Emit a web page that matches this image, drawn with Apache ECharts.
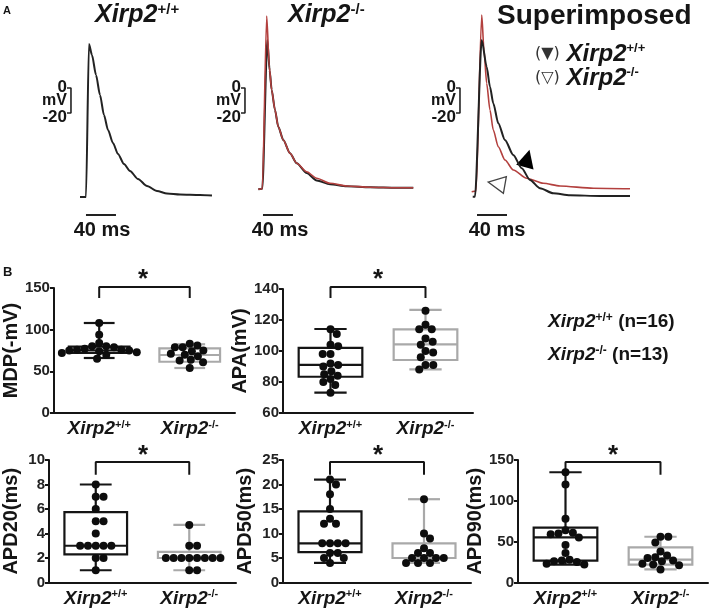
<!DOCTYPE html>
<html><head><meta charset="utf-8">
<script src="https://cdn.jsdelivr.net/npm/echarts@6/dist/echarts.min.js"></script>
<style>html,body{margin:0;padding:0;background:#fff}#c{width:709px;height:608px}</style>
</head><body><div id="c"></div>
<script>
// ---------------- DATA ----------------
const categories = ['Xirp2+/+', 'Xirp2-/-'];
const yNames = ['MDP(-mV)', 'APA(mV)', 'APD20(ms)', 'APD50(ms)', 'APD90(ms)'];
const legendN = [16, 13];

// Panel A: action potential traces [time ms, membrane potential mV]
const traceWT = [[53.3,-87.2],[61.3,-87.2],[65.3,35.2],[69.3,26.4],[74.7,10.4],[80,-5.6],[85.3,-21.6],[90.7,-33.6],[97.3,-44],[104,-52.8],[112,-60.8],[120,-66.4],[130.7,-72.8],[142.7,-78.4],[156,-82.4],[169.3,-84.4],[186.7,-85.2],[213.3,-85.6],[229.3,-86]];
const traceKOblack = [[11.1,-81],[16.4,-80.6],[23.1,38.4],[26.2,14],[28.9,-1.6],[33.3,-17.6],[37.7,-31],[44.4,-41.6],[53.3,-52.2],[62.3,-60.2],[75.6,-68],[88.9,-74],[106.7,-77],[128.9,-78.6],[160,-79.4],[195.6,-79.8],[217.7,-79.8]];
const traceKOred = [[11.1,-81],[16.4,-80.6],[22.3,57.6],[25.7,17],[28.9,-1.6],[33.3,-17.6],[37.7,-31],[44.4,-41.6],[53.3,-52.2],[62.3,-60.2],[75.6,-67],[88.9,-72.2],[106.7,-76.2],[128.9,-78.4],[160,-79.4],[195.6,-79.8],[217.7,-79.8]];
const superWT = [[10.3,-87],[13.3,-87],[22.3,38.4],[28.9,17],[33.3,1],[37.7,-12.2],[44.4,-28.2],[53.3,-41.6],[64.4,-53.6],[75.6,-64.2],[86.7,-73.6],[100,-80.2],[117.7,-84.2],[140,-85.8],[180,-86.4],[220,-86.4]];
const superKO = [[8.9,-83],[14.7,-82.4],[22.3,58.4],[25.3,30.4],[28.9,3.8],[33.3,-17.6],[37.7,-33.6],[44.4,-47],[53.3,-57.6],[64.4,-65.6],[82.3,-72.2],[104.4,-76.2],[126.7,-78.4],[171.1,-80.2],[220,-80.6]];

// Panel B: individual cells
const mdpWT = [108, 94, 84, 80, 80, 79, 77, 76, 76, 75, 75, 74, 73, 72, 70, 65];
const mdpKO = [83, 81, 79, 79, 75, 74, 71, 70, 68, 64, 63, 61, 54];
const apaWT = [114, 111, 104, 103, 98, 98, 92, 91, 90, 87, 85, 84, 82, 80, 78, 73];
const apaKO = [126, 117, 114, 114, 108, 106, 104, 100, 99, 96, 91, 91, 88];
const apd20WT = [8, 7, 7, 6, 5, 5, 4, 3, 3, 3, 3, 3, 2, 2, 1];
const apd20KO = [4.7, 3, 3, 2, 2, 2, 2, 2, 2, 2, 2, 1, 1];
const apd50WT = [21, 20, 18, 15, 13, 12, 12, 8, 8, 8, 8, 6, 6, 5, 5, 4];
const apd50KO = [17, 10, 9, 7, 6, 6, 5, 5, 5, 5, 4, 4, 4];
const apd90WT = [135, 120, 78, 64, 61, 60, 59, 55, 46, 36, 28, 27, 26, 25, 23, 22];
const apd90KO = [56, 56, 49, 38, 33, 31, 30, 27, 26, 23, 22, 21, 16];

// box stats [min, Q1, median, Q3, max]
const mdpBoxWT = [66, 72, 75, 79.6, 108], mdpBoxKO = [54, 61.5, 69.6, 77.5, 82.5];
const apaBoxWT = [73.2, 83.4, 91, 102, 114.2], apaBoxKO = [88.2, 94.2, 104.3, 114, 126.5];
const apd20BoxWT = [1, 2.3, 3, 5.75, 8], apd20BoxKO = [1, 2, 2, 2.5, 4.7];
const apd50BoxWT = [4, 6.2, 8, 14.5, 21], apd50BoxKO = [4, 5, 5, 8, 17];
const apd90BoxWT = [22, 26.8, 55.2, 67.2, 135], apd90BoxKO = [16, 22, 28, 43, 56];

// axis ranges [min, max, interval]
const yRanges = [[0,150,50],[60,140,20],[0,10,2],[0,25,5],[0,150,50]];

// ---------------- LAYOUT ----------------
const FONT = 'Liberation Sans, Arial, sans-serif';
const INK = '#151515', GREY = '#a9a9a9', RED = '#b3403e';
const traceGrids = [{left:10},{left:220},{left:435}].map(g => ({left:g.left, top:13, width:210, height:225}));
const boxGrids = [
  {left:45, top:288, width:190, height:125},
  {left:283, top:289, width:190, height:124},
  {left:48, top:460, width:188, height:125},
  {left:283, top:460, width:188, height:125},
  {left:518, top:460, width:190, height:125}
];
const panels = [
  {wt: mdpWT, ko: mdpKO, bwt: mdpBoxWT, bko: mdpBoxKO},
  {wt: apaWT, ko: apaKO, bwt: apaBoxWT, bko: apaBoxKO},
  {wt: apd20WT, ko: apd20KO, bwt: apd20BoxWT, bko: apd20BoxKO},
  {wt: apd50WT, ko: apd50KO, bwt: apd50BoxWT, bko: apd50BoxKO},
  {wt: apd90WT, ko: apd90KO, bwt: apd90BoxWT, bko: apd90BoxKO}
];
// significance bracket: pixel offsets below plot top (top line, drop end)
const bracketPx = [[-1, 10], [-2, 9], [2, 15], [2, 15], [2, 15]];

const scaleMs = 40, scaleMv = 20;
const bracketT = [41.3, -6.7, -6.7];
const timeBarT = [61.3, 17.3, 16];
const timeBarV = -101.6;

// ---------------- helpers ----------------
function swarm(values, pxPerUnit, D) {
  const order = values.map((v, i) => ({v, i})).sort((a, b) => b.v - a.v);
  const placed = [], res = new Array(values.length);
  order.forEach(p => {
    const y = p.v * pxPerUnit;
    const cands = [0];
    placed.forEach(q => {
      const dy = Math.abs(q.y - y);
      if (dy < D) { const h = Math.sqrt(D * D - dy * dy); cands.push(q.x + h, q.x - h); }
    });
    cands.sort((a, b) => Math.abs(a) - Math.abs(b) || b - a);
    let x = 0;
    for (const c of cands) {
      if (placed.every(q => (q.x - c) ** 2 + (q.y - y) ** 2 >= D * D - 0.01)) { x = c; break; }
    }
    placed.push({x, y});
    res[p.i] = x;
  });
  return res;
}
function sup(label) {
  const m = label.match(/^(Xirp2)(.*)$/);
  return '{g|' + m[1] + '}{s|' + m[2] + '}';
}
const colors = [INK, GREY];
function boxRender(params, api) {
  const c = api.value(0);
  const x = api.coord([c, api.value(1)])[0];
  const yMin = api.coord([c, api.value(1)])[1];
  const yQ1 = api.coord([c, api.value(2)])[1];
  const yMed = api.coord([c, api.value(3)])[1];
  const yQ3 = api.coord([c, api.value(4)])[1];
  const yMax = api.coord([c, api.value(5)])[1];
  const band = api.size([1, 0])[0];
  const bw = band * 0.67, cw = band * 0.34;
  const st = {stroke: colors[c], lineWidth: 2.2, fill: null};
  return {type: 'group', children: [
    {type: 'line', shape: {x1: x, y1: yQ3, x2: x, y2: yMax}, style: st},
    {type: 'line', shape: {x1: x, y1: yQ1, x2: x, y2: yMin}, style: st},
    {type: 'line', shape: {x1: x - cw / 2, y1: yMax, x2: x + cw / 2, y2: yMax}, style: st},
    {type: 'line', shape: {x1: x - cw / 2, y1: yMin, x2: x + cw / 2, y2: yMin}, style: st},
    {type: 'rect', shape: {x: x - bw / 2, y: yQ3, width: bw, height: yQ1 - yQ3}, style: {stroke: colors[c], lineWidth: 2.2, fill: '#fff'}},
    {type: 'line', shape: {x1: x - bw / 2, y1: yMed, x2: x + bw / 2, y2: yMed}, style: st}
  ]};
}

// ---------------- OPTION ----------------
const grid = [], xAxis = [], yAxis = [], series = [];
traceGrids.forEach((g, i) => {
  grid.push(g);
  xAxis.push({type: 'value', gridIndex: i, min: -40, max: 240, show: false});
  yAxis.push({type: 'value', gridIndex: i, min: -120, max: 60, show: false});
});
const lineBase = {type: 'line', showSymbol: false, symbol: 'none', smooth: 0.25, smoothMonotone: 'x', silent: true, clip: false};
series.push({...lineBase, xAxisIndex: 0, yAxisIndex: 0, data: traceWT, lineStyle: {color: '#222', width: 2}});
series.push({...lineBase, xAxisIndex: 1, yAxisIndex: 1, data: traceKOblack, lineStyle: {color: '#222', width: 2}});
series.push({...lineBase, xAxisIndex: 1, yAxisIndex: 1, data: traceKOred, lineStyle: {color: RED, width: 1.6}});
series.push({...lineBase, xAxisIndex: 2, yAxisIndex: 2, data: superKO, lineStyle: {color: RED, width: 1.6}});
series.push({...lineBase, xAxisIndex: 2, yAxisIndex: 2, data: superWT, lineStyle: {color: '#222', width: 2}});
// scale bars
for (let i = 0; i < 3; i++) {
  const tb = bracketT[i], tk = 5.3;
  series.push({type: 'line', xAxisIndex: i, yAxisIndex: i, symbol: 'none', silent: true, clip: false,
    data: [[tb - tk, 0], [tb, 0], [tb, -scaleMv], [tb - tk, -scaleMv]], lineStyle: {color: '#222', width: 1.6}});
  series.push({type: 'line', xAxisIndex: i, yAxisIndex: i, symbol: 'none', silent: true, clip: false,
    data: [[timeBarT[i], timeBarV], [timeBarT[i] + scaleMs, timeBarV]], lineStyle: {color: '#222', width: 2.2}});
}
// arrowheads in the superimposed panel
series.push({type: 'scatter', xAxisIndex: 2, yAxisIndex: 2, silent: true, data: [[82.9, -56.3]], symbol: 'triangle', symbolSize: 18, symbolRotate: -15, itemStyle: {color: '#000', opacity: 1}});
series.push({type: 'scatter', xAxisIndex: 2, yAxisIndex: 2, silent: true, data: [[42, -76.4]], symbol: 'triangle', symbolSize: 17, symbolRotate: 80, itemStyle: {color: '#fff', borderColor: '#444', borderWidth: 1.3, opacity: 1}});

boxGrids.forEach((g, k) => {
  const gi = k + 3;
  grid.push(g);
  const [mn, mx, iv] = yRanges[k];
  xAxis.push({type: 'category', gridIndex: gi, data: categories,
    axisLine: {lineStyle: {color: INK, width: 2}},
    axisTick: {alignWithLabel: true, length: 5, lineStyle: {color: INK, width: 2}},
    axisLabel: {interval: 0, margin: 6, formatter: sup, rich: {
      g: {fontSize: 19, fontWeight: 'bold', fontStyle: 'italic', color: INK, fontFamily: FONT, lineHeight: 20},
      s: {fontSize: 11, fontWeight: 'bold', color: INK, fontFamily: FONT, verticalAlign: 'top', lineHeight: 12}}}
  });
  yAxis.push({type: 'value', gridIndex: gi, min: mn, max: mx, interval: iv,
    name: yNames[k], nameLocation: 'middle', nameGap: 28, nameRotate: 90,
    nameTextStyle: {fontSize: 20, fontWeight: 'bold', color: INK, fontFamily: FONT},
    axisLine: {show: true, lineStyle: {color: INK, width: 2}},
    axisTick: {show: true, length: 4, lineStyle: {color: INK, width: 2}},
    splitLine: {show: false},
    axisLabel: {fontSize: 15, fontWeight: 'bold', color: '#222', fontFamily: FONT, margin: 4}
  });
  const p = panels[k];
  series.push({type: 'custom', xAxisIndex: gi, yAxisIndex: gi, silent: true, renderItem: boxRender, z: 2,
    encode: {x: 0, y: [1, 2, 3, 4, 5]},
    data: [[0, ...p.bwt], [1, ...p.bko]]});
  const ppu = g.height / (mx - mn);
  const D = 7.8;
  const pts = [];
  [p.wt, p.ko].forEach((vals, c) => {
    const dx = swarm(vals, ppu, D);
    vals.forEach((v, i) => pts.push({value: [c, v], symbolOffset: [dx[i], 0]}));
  });
  series.push({type: 'scatter', xAxisIndex: gi, yAxisIndex: gi, silent: true, z: 5, symbol: 'circle', symbolSize: 8,
    itemStyle: {color: '#0d0d0d', opacity: 1}, data: pts});
  // significance bracket
  const [tp, dp] = bracketPx[k];
  const vTop = mx - tp / ppu, vDrop = mx - dp / ppu;
  series.push({type: 'line', xAxisIndex: gi, yAxisIndex: gi, symbol: 'none', silent: true, clip: false, z: 3,
    data: [[0, vDrop], [0, vTop], [1, vTop], [1, vDrop]],
    lineStyle: {color: INK, width: 2}});
});

// ---------------- TEXT ANNOTATIONS ----------------
const supRich = (gs, ss) => ({
  g: {fontSize: gs, fontWeight: 'bold', fontStyle: 'italic', fill: INK, fontFamily: FONT, lineHeight: gs + 1},
  s: {fontSize: ss, fontWeight: 'bold', fill: INK, fontFamily: FONT, verticalAlign: 'top', lineHeight: ss + 1},
  p: {fontSize: 16, fill: '#333', fontFamily: 'DejaVu Sans, sans-serif'},
  n: {fontSize: 19, fontWeight: 'bold', fill: INK, fontFamily: FONT}
});
const T = (x, y, text, font, align) => ({type: 'text', x, y, silent: true,
  style: {text, font, fill: INK, align: align || 'left', verticalAlign: 'middle'}});
const graphic = [
  T(3, 11, 'A', 'bold 11px ' + FONT),
  T(3, 272, 'B', 'bold 13px ' + FONT),
  {type: 'text', x: 95, y: 15, silent: true, style: {text: sup(categories[0]), rich: supRich(25, 15), verticalAlign: 'middle'}},
  {type: 'text', x: 288, y: 15, silent: true, style: {text: sup(categories[1]), rich: supRich(25, 15), verticalAlign: 'middle'}},
  T(497, 16, 'Superimposed', 'bold 28px ' + FONT),
  {type: 'text', x: 535, y: 54, silent: true, style: {text: '{p|(▼)}  ' + sup(categories[0]), rich: supRich(24, 13), verticalAlign: 'middle'}},
  {type: 'text', x: 535, y: 78, silent: true, style: {text: '{p|(▽)}  ' + sup(categories[1]), rich: supRich(24, 13), verticalAlign: 'middle'}},
  {type: 'text', x: 548, y: 322, silent: true, style: {text: sup(categories[0]) + '{n| (n=' + legendN[0] + ')}', rich: supRich(19, 12), verticalAlign: 'middle'}},
  {type: 'text', x: 548, y: 355, silent: true, style: {text: sup(categories[1]) + '{n| (n=' + legendN[1] + ')}', rich: supRich(19, 12), verticalAlign: 'middle'}}
];
[67, 241, 456].forEach(x => {
  graphic.push(T(x, 87, '0', 'bold 17px ' + FONT, 'right'));
  graphic.push(T(x, 101, 'mV', 'bold 16px ' + FONT, 'right'));
  graphic.push(T(x, 117, '-20', 'bold 17px ' + FONT, 'right'));
});
[102, 280, 497].forEach(x => graphic.push(T(x, 230, scaleMs + ' ms', 'bold 20px ' + FONT, 'center')));
[[143, 267], [378, 267], [143, 443], [378, 443], [613, 443]].forEach(([x, y]) =>
  graphic.push({type: 'text', x, y, silent: true, style: {text: '*', font: 'bold 26px ' + FONT, fill: INK, align: 'center', verticalAlign: 'top'}}));

const chart = echarts.init(document.getElementById('c'), null, {renderer: 'canvas'});
chart.setOption({animation: false, textStyle: {fontFamily: FONT}, grid, xAxis, yAxis, series, graphic});
</script></body></html>
